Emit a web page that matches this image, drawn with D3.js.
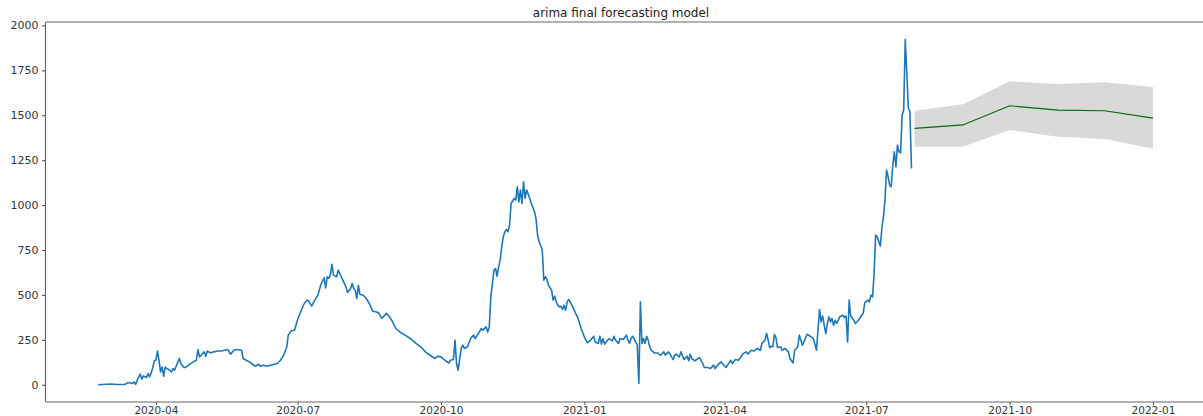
<!DOCTYPE html>
<html>
<head>
<meta charset="utf-8">
<script src="https://cdn.jsdelivr.net/npm/d3@7"></script>
<style>
  html, body { margin: 0; padding: 0; background: #fff; }
  svg { display: block; }
  text { font-family: "DejaVu Sans", sans-serif; }
</style>
</head>
<body>
<svg id="chart" width="1203" height="416"></svg>
<script>
// ---------------- DATA ----------------
const chartTitle = "arima final forecasting model";
const obsStart = "2020-02-24"; // day 0 of observed series

// observed series: day offset from obsStart, and value
const obsDay = [
  0,8,12,17,19,22,23,24,26,27,28,29,31,32,33,34,35,36,37,38,
  39,40,41,42,43,44,46,47,48,49,50,52,53,55,56,58,61,63,64,65,
  66,68,69,70,72,74,77,79,81,83,85,87,89,92,93,95,97,99,101,103,
  104,106,108,111,113,115,117,119,121,122,124,126,128,130,132,134,135,137,139,141,
  143,145,146,147,148,149,150,151,153,154,155,156,157,159,160,162,163,164,165,166,
  167,168,170,172,174,175,176,178,180,182,185,187,189,191,194,197,201,204,207,210,
  213,216,218,220,222,225,226,228,229,230,231,233,234,235,237,239,241,242,244,246,
  247,249,250,251,252,254,255,256,257,258,259,260,261,262,263,264,265,267,268,269,
  270,271,272,273,274,275,276,277,278,280,281,282,283,285,286,287,288,289,291,292,
  293,294,295,296,297,298,299,300,301,302,304,306,308,310,312,314,316,318,319,321,
  322,323,324,325,327,328,330,331,332,334,335,337,339,340,341,342,343,345,346,347,
  348,349,350,351,352,353,354,355,357,359,361,363,364,366,367,369,370,371,373,374,
  376,378,379,380,381,383,385,386,388,389,391,393,395,396,398,400,401,403,404,406,
  407,409,411,414,416,417,419,421,423,425,426,428,429,430,431,432,433,434,435,436,
  438,439,441,443,444,446,447,449,450,452,453,455,457,459,461,462,463,464,465,466,
  467,468,469,470,471,472,473,474,476,478,479,480,481,482,483,485,486,488,490,491,
  492,494,495,496,497,498,499,500,502,503,504,505,506,507,508,509,510,511,512,513,
  514,515,516,517,518,519,520,521,522
];
const obsValue = [
  0,4,1,1,12,7,16,2,44,59,31,49,40,62,44,66,96,133,136,187,
  136,71,99,47,99,90,81,71,90,81,103,146,118,96,96,109,127,136,196,155,
  164,183,159,188,177,183,188,188,192,196,170,192,196,192,146,136,127,114,103,114,
  103,109,103,109,114,118,136,164,210,276,300,303,363,406,448,471,467,437,471,499,
  560,595,539,601,592,610,670,610,601,638,620,601,582,545,514,536,564,536,526,480,
  554,502,499,480,452,433,411,406,400,369,397,378,350,313,291,276,253,230,211,183,
  164,146,159,155,140,121,136,140,248,118,81,202,220,202,211,257,276,257,285,313,
  304,322,294,322,489,638,647,604,656,694,768,823,851,864,851,888,1009,1037,1028,1102,
  1018,1084,1009,1130,1037,1084,1061,1037,1009,963,926,833,796,753,582,601,586,554,526,471,
  493,461,443,433,437,419,443,415,461,475,443,406,369,313,266,233,248,270,238,230,
  270,226,257,226,248,257,244,270,248,230,257,252,276,248,230,257,270,238,220,7,
  461,230,257,230,270,248,211,192,177,177,164,183,164,183,170,140,164,170,155,183,
  140,159,133,170,146,133,146,151,118,96,96,90,109,90,114,127,114,96,109,136,
  118,140,136,174,183,170,192,188,202,192,230,248,285,248,207,214,211,280,263,207,
  211,192,202,183,146,121,192,211,276,220,238,281,270,257,192,304,419,350,382,331,
  285,341,378,350,369,331,359,341,378,387,374,382,238,471,382,359,341,359,387,397,
  456,471,461,499,489,615,833,823,772,870,935,1028,1195,1158,1111,1102,1223,1297,1213,1334,
  1297,1291,1501,1529,1923,1734,1539,1520,1204
];

// forecast
const fcDates = ["2021-08-01","2021-09-01","2021-10-01","2021-11-01","2021-12-01","2022-01-01"];
const fcMean  = [1427, 1446, 1553, 1529, 1525, 1484];
const fcLower = [1325, 1325, 1418, 1380, 1368, 1313];
const fcUpper = [1525, 1561, 1689, 1674, 1684, 1658];

// axis ticks
const xTickLabels = ["2020-04","2020-07","2020-10","2021-01","2021-04","2021-07","2021-10","2022-01"];
const yTickValues = [0, 250, 500, 750, 1000, 1250, 1500, 1750, 2000];

// ---------------- CHART ----------------
(function () {
const parseDay = d3.utcParse("%Y-%m-%d");
const parseMonth = d3.utcParse("%Y-%m");
const start = parseDay(obsStart);
const obs = obsDay.map((d, i) => ({ date: d3.utcDay.offset(start, d), value: obsValue[i] }));
const fc = fcDates.map((d, i) => ({ date: parseDay(d), mean: fcMean[i], lo: fcLower[i], hi: fcUpper[i] }));

const svg = d3.select("#chart");
const mLeft = 45.5, mRight = 1205.7, mTop = 22, mBottom = 402;

// x limits: data extent with 5% margins (matplotlib default)
const allDates = obs.map(d => d.date).concat(fc.map(d => d.date));
const xExt = d3.extent(allDates);
const span = xExt[1] - xExt[0];
const x = d3.scaleUtc()
  .domain([new Date(+xExt[0] - 0.05 * span), new Date(+xExt[1] + 0.05 * span)])
  .range([mLeft, mRight]);

const yVals = obsValue.concat(fcLower, fcUpper);
const yMin = d3.min(yVals), yMax = d3.max(yVals);
const yPad = 0.05 * (yMax - yMin);
const y = d3.scaleLinear()
  .domain([yMin - yPad, yMax + yPad])
  .range([mBottom, mTop]);

const plot = svg.append("g");

// forecast green line
plot.append("path")
  .datum(fc)
  .attr("fill", "none")
  .attr("stroke", "green")
  .attr("stroke-width", 1.2)
  .attr("d", d3.line().x(d => x(d.date)).y(d => y(d.mean)));

// confidence band (black, alpha .15)
plot.append("path")
  .datum(fc)
  .attr("fill", "#000")
  .attr("fill-opacity", 0.15)
  .attr("d", d3.area().x(d => x(d.date)).y0(d => y(d.lo)).y1(d => y(d.hi)));

// observed blue line
plot.append("path")
  .datum(obs)
  .attr("fill", "none")
  .attr("stroke", "#1f77b4")
  .attr("stroke-width", 1.6)
  .attr("stroke-linejoin", "round")
  .attr("d", d3.line().x(d => x(d.date)).y(d => y(d.value)));

// axes
const xAxis = d3.axisBottom(x)
  .tickValues(xTickLabels.map(s => parseMonth(s)))
  .tickFormat(d3.utcFormat("%Y-%m"))
  .tickSize(3)
  .tickPadding(2);
const gx = svg.append("g").attr("transform", `translate(0,${mBottom})`).call(xAxis);
gx.select(".domain").remove();
gx.selectAll("line").attr("stroke", "#444");
gx.selectAll("text")
  .attr("y", 11.5).attr("dy", null)
  .attr("font-size", 10.5).attr("fill", "#333")
  .attr("font-family", "DejaVu Sans, sans-serif");

const yAxis = d3.axisLeft(y)
  .tickValues(yTickValues)
  .tickFormat(d3.format("d"))
  .tickSize(3.5)
  .tickPadding(3.5);
const gy = svg.append("g").attr("transform", `translate(${mLeft},0)`).call(yAxis);
gy.select(".domain").remove();
gy.selectAll("line").attr("stroke", "#444");
gy.selectAll("text").attr("font-size", 11).attr("fill", "#333")
  .attr("font-family", "DejaVu Sans, sans-serif");

// spines
const spine = svg.append("g").attr("stroke", "#666").attr("stroke-width", 1.2).attr("fill", "none");
spine.append("line").attr("x1", mLeft).attr("x2", mRight).attr("y1", mTop).attr("y2", mTop);
spine.append("line").attr("x1", mLeft).attr("x2", mRight).attr("y1", mBottom).attr("y2", mBottom);
spine.append("line").attr("x1", mLeft).attr("x2", mLeft).attr("y1", mTop).attr("y2", mBottom);
spine.append("line").attr("x1", mRight).attr("x2", mRight).attr("y1", mTop).attr("y2", mBottom);

// title
svg.append("text")
  .attr("x", 621)
  .attr("y", 17)
  .attr("text-anchor", "middle")
  .attr("font-size", 12)
  .attr("fill", "#222")
  .text(chartTitle);
})();
</script>
</body>
</html>
